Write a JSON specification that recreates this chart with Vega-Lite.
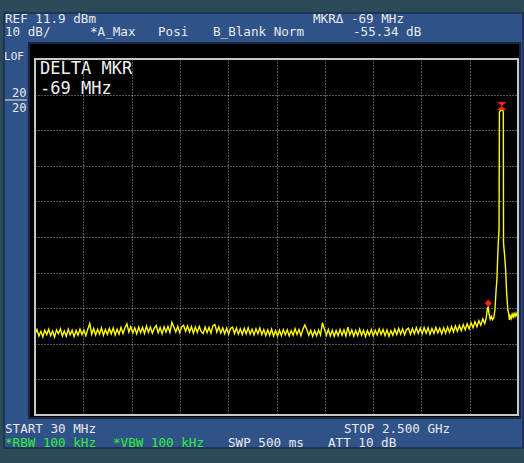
{
  "$schema": "https://vega.github.io/schema/vega-lite/v6.json",
  "width": 483,
  "height": 356,
  "autosize": {"type": "none"},
  "padding": {"left": 35, "top": 59, "right": 6, "bottom": 48},
  "background": "#2c4b59",
  "config": {"view": {"stroke": null}},
  "data": {"values": [{"panel": "screen"}]},
  "datasets": {
    "trace": [
      {"freq":30,"level":-65.4},{"freq":40,"level":-64.1},{"freq":50,"level":-65.9},{"freq":60,"level":-64.6},{"freq":70,"level":-66.1},{"freq":80,"level":-64.3},{"freq":90,"level":-65.5},{"freq":100,"level":-64.0},{"freq":110,"level":-65.8},{"freq":120,"level":-64.5},
      {"freq":130,"level":-66.2},{"freq":140,"level":-64.2},{"freq":150,"level":-65.3},{"freq":160,"level":-63.9},{"freq":170,"level":-65.9},{"freq":180,"level":-64.5},{"freq":190,"level":-66.0},{"freq":200,"level":-64.0},{"freq":210,"level":-65.6},{"freq":220,"level":-64.3},
      {"freq":230,"level":-66.1},{"freq":240,"level":-64.4},{"freq":250,"level":-65.7},{"freq":260,"level":-64.0},{"freq":270,"level":-65.5},{"freq":280,"level":-64.2},{"freq":290,"level":-65.8},{"freq":300,"level":-64.0},{"freq":310,"level":-62.4},{"freq":320,"level":-65.4},
      {"freq":330,"level":-63.8},{"freq":340,"level":-65.6},{"freq":350,"level":-64.0},{"freq":360,"level":-65.4},{"freq":370,"level":-63.6},{"freq":380,"level":-65.7},{"freq":390,"level":-64.1},{"freq":400,"level":-65.5},{"freq":410,"level":-63.8},{"freq":420,"level":-65.3},
      {"freq":430,"level":-63.7},{"freq":440,"level":-65.6},{"freq":450,"level":-64.0},{"freq":460,"level":-65.4},{"freq":470,"level":-63.5},{"freq":480,"level":-65.2},{"freq":490,"level":-63.6},{"freq":500,"level":-62.5},{"freq":510,"level":-64.8},{"freq":520,"level":-63.3},
      {"freq":530,"level":-65.1},{"freq":540,"level":-63.6},{"freq":550,"level":-65.3},{"freq":560,"level":-63.4},{"freq":570,"level":-65.0},{"freq":580,"level":-63.5},{"freq":590,"level":-65.2},{"freq":600,"level":-63.1},{"freq":610,"level":-64.9},{"freq":620,"level":-63.4},
      {"freq":630,"level":-65.1},{"freq":640,"level":-63.7},{"freq":650,"level":-63.0},{"freq":660,"level":-65.0},{"freq":670,"level":-63.5},{"freq":680,"level":-65.3},{"freq":690,"level":-63.3},{"freq":700,"level":-64.8},{"freq":710,"level":-63.2},{"freq":720,"level":-64.9},
      {"freq":730,"level":-62.1},{"freq":740,"level":-63.4},{"freq":750,"level":-64.8},{"freq":760,"level":-63.2},{"freq":770,"level":-65.0},{"freq":780,"level":-63.4},{"freq":790,"level":-62.9},{"freq":800,"level":-64.6},{"freq":810,"level":-63.1},{"freq":820,"level":-64.8},
      {"freq":830,"level":-63.3},{"freq":840,"level":-65.1},{"freq":850,"level":-63.4},{"freq":860,"level":-64.9},{"freq":870,"level":-63.2},{"freq":880,"level":-64.7},{"freq":890,"level":-65.2},{"freq":900,"level":-63.4},{"freq":910,"level":-65.0},{"freq":920,"level":-63.5},
      {"freq":930,"level":-65.1},{"freq":940,"level":-63.0},{"freq":950,"level":-62.7},{"freq":960,"level":-64.8},{"freq":970,"level":-63.3},{"freq":980,"level":-65.1},{"freq":990,"level":-63.6},{"freq":1000,"level":-65.3},{"freq":1010,"level":-63.7},{"freq":1020,"level":-65.4},
      {"freq":1030,"level":-63.8},{"freq":1040,"level":-63.4},{"freq":1050,"level":-65.2},{"freq":1060,"level":-63.7},{"freq":1070,"level":-65.4},{"freq":1080,"level":-63.9},{"freq":1090,"level":-65.5},{"freq":1100,"level":-63.8},{"freq":1110,"level":-65.3},{"freq":1120,"level":-63.6},
      {"freq":1130,"level":-65.4},{"freq":1140,"level":-64.0},{"freq":1150,"level":-65.6},{"freq":1160,"level":-63.9},{"freq":1170,"level":-65.3},{"freq":1180,"level":-63.7},{"freq":1190,"level":-65.5},{"freq":1200,"level":-64.1},{"freq":1210,"level":-65.8},{"freq":1220,"level":-64.2},
      {"freq":1230,"level":-65.7},{"freq":1240,"level":-64.0},{"freq":1250,"level":-65.9},{"freq":1260,"level":-64.4},{"freq":1270,"level":-66.0},{"freq":1280,"level":-64.3},{"freq":1290,"level":-65.8},{"freq":1300,"level":-64.1},{"freq":1310,"level":-65.6},{"freq":1320,"level":-64.2},
      {"freq":1330,"level":-65.9},{"freq":1340,"level":-64.4},{"freq":1350,"level":-65.7},{"freq":1360,"level":-63.9},{"freq":1370,"level":-65.5},{"freq":1380,"level":-64.1},{"freq":1390,"level":-65.8},{"freq":1400,"level":-64.0},{"freq":1410,"level":-62.8},{"freq":1420,"level":-64.1},
      {"freq":1430,"level":-65.7},{"freq":1440,"level":-64.3},{"freq":1450,"level":-66.0},{"freq":1460,"level":-64.4},{"freq":1470,"level":-65.8},{"freq":1480,"level":-64.2},{"freq":1490,"level":-65.6},{"freq":1500,"level":-62.2},{"freq":1510,"level":-64.0},{"freq":1520,"level":-65.7},
      {"freq":1530,"level":-64.1},{"freq":1540,"level":-65.9},{"freq":1550,"level":-64.3},{"freq":1560,"level":-66.0},{"freq":1570,"level":-64.4},{"freq":1580,"level":-65.8},{"freq":1590,"level":-64.1},{"freq":1600,"level":-65.7},{"freq":1610,"level":-64.2},{"freq":1620,"level":-65.9},
      {"freq":1630,"level":-63.4},{"freq":1640,"level":-65.6},{"freq":1650,"level":-64.2},{"freq":1660,"level":-66.0},{"freq":1670,"level":-64.4},{"freq":1680,"level":-65.8},{"freq":1690,"level":-64.0},{"freq":1700,"level":-65.7},{"freq":1710,"level":-64.3},{"freq":1720,"level":-66.1},
      {"freq":1730,"level":-64.4},{"freq":1740,"level":-65.7},{"freq":1750,"level":-64.1},{"freq":1760,"level":-65.9},{"freq":1770,"level":-64.3},{"freq":1780,"level":-65.6},{"freq":1790,"level":-63.9},{"freq":1800,"level":-65.5},{"freq":1810,"level":-64.1},{"freq":1820,"level":-65.8},
      {"freq":1830,"level":-64.2},{"freq":1840,"level":-66.0},{"freq":1850,"level":-64.4},{"freq":1860,"level":-65.7},{"freq":1870,"level":-64.0},{"freq":1880,"level":-65.5},{"freq":1890,"level":-63.8},{"freq":1900,"level":-65.4},{"freq":1910,"level":-63.9},{"freq":1920,"level":-65.6},
      {"freq":1930,"level":-64.1},{"freq":1940,"level":-63.7},{"freq":1950,"level":-65.4},{"freq":1960,"level":-63.8},{"freq":1970,"level":-65.3},{"freq":1980,"level":-63.6},{"freq":1990,"level":-65.2},{"freq":2000,"level":-63.7},{"freq":2010,"level":-65.3},{"freq":2020,"level":-63.5},
      {"freq":2030,"level":-65.1},{"freq":2040,"level":-63.6},{"freq":2050,"level":-65.4},{"freq":2060,"level":-63.8},{"freq":2070,"level":-65.2},{"freq":2080,"level":-63.5},{"freq":2090,"level":-65.0},{"freq":2100,"level":-63.7},{"freq":2110,"level":-65.3},{"freq":2120,"level":-63.6},
      {"freq":2130,"level":-65.1},{"freq":2140,"level":-63.4},{"freq":2150,"level":-64.9},{"freq":2160,"level":-63.3},{"freq":2170,"level":-64.8},{"freq":2180,"level":-63.1},{"freq":2190,"level":-64.6},{"freq":2200,"level":-63.0},{"freq":2210,"level":-64.4},{"freq":2220,"level":-62.7},
      {"freq":2230,"level":-64.2},{"freq":2240,"level":-62.5},{"freq":2250,"level":-63.9},{"freq":2260,"level":-62.2},{"freq":2270,"level":-63.6},{"freq":2280,"level":-61.9},{"freq":2290,"level":-63.3},{"freq":2300,"level":-61.6},{"freq":2310,"level":-62.9},{"freq":2320,"level":-61.1},
      {"freq":2330,"level":-62.4},{"freq":2338,"level":-60.7},{"freq":2344,"level":-58.0},{"freq":2348,"level":-57.8},{"freq":2352,"level":-59.8},{"freq":2358,"level":-61.2},{"freq":2364,"level":-60.4},{"freq":2370,"level":-61.3},{"freq":2376,"level":-60.8},{"freq":2382,"level":-58.6},
      {"freq":2388,"level":-53.0},{"freq":2392,"level":-50.2},{"freq":2396,"level":-44.0},{"freq":2399,"level":-39.9},{"freq":2403,"level":-36.1},{"freq":2405,"level":-3.0},{"freq":2411,"level":-2.5},{"freq":2417,"level":-2.4},{"freq":2423,"level":-2.6},{"freq":2425,"level":-3.2},
      {"freq":2426,"level":-39.9},{"freq":2432,"level":-43.5},{"freq":2437,"level":-47.4},{"freq":2442,"level":-53.9},{"freq":2448,"level":-58.6},{"freq":2452,"level":-59.5},{"freq":2456,"level":-61.4},{"freq":2460,"level":-60.3},{"freq":2465,"level":-61.0},{"freq":2470,"level":-59.8},
      {"freq":2475,"level":-60.6},{"freq":2480,"level":-59.6},{"freq":2485,"level":-60.4},{"freq":2490,"level":-59.5},{"freq":2495,"level":-60.2},{"freq":2500,"level":-59.4}
    ],
    "markers": [
      {"marker": "peak", "freq": 2417, "level": -2.4},
      {"marker": "delta", "freq": 2348, "level": -57.8}
    ]
  },
  "layer": [
    {
      "mark": {"type": "rect", "color": "#2f5388", "stroke": "#1c2d4c", "strokeWidth": 1.5, "clip": false},
      "encoding": {
        "x": {"datum": -128.5, "type": "quantitative", "scale": {"domain": [30, 2500], "nice": false, "zero": false}, "axis": {"title": null}},
        "x2": {"datum": 2525.6},
        "y": {"datum": 24.82, "type": "quantitative", "scale": {"domain": [-88.1, 11.9], "nice": false, "zero": false}, "axis": {"title": null}},
        "y2": {"datum": -97.37}
      }
    },
    {
      "mark": {"type": "rect", "color": "#000000", "stroke": "#18263f", "strokeWidth": 2, "clip": false},
      "encoding": {
        "x": {"datum": -1, "type": "quantitative", "axis": {"title": null}},
        "x2": {"datum": 2510.2},
        "y": {"datum": 16.39, "type": "quantitative", "axis": {"title": null}},
        "y2": {"datum": -88.95}
      }
    },
    {
      "data": {"name": "trace"},
      "mark": {"type": "line", "color": "#ffff00", "strokeWidth": 1.4, "clip": false},
      "encoding": {
        "x": {"field": "freq", "type": "quantitative", "axis": {"values": [277, 524, 771, 1018, 1265, 1512, 1759, 2006, 2253], "grid": true, "gridColor": "#a8a8a8", "gridDash": [1, 2], "gridWidth": 1, "labels": false, "ticks": false, "domain": false, "title": null, "zindex": 1}},
        "y": {"field": "level", "type": "quantitative", "axis": {"values": [1.9, -8.1, -18.1, -28.1, -38.1, -48.1, -58.1, -68.1, -78.1], "grid": true, "gridColor": "#a8a8a8", "gridDash": [1, 2], "gridWidth": 1, "labels": false, "ticks": false, "domain": false, "title": null, "zindex": 1}}
      }
    },
    {
      "mark": {"type": "rect", "filled": false, "stroke": "#c8c8c8", "strokeWidth": 2, "clip": false},
      "encoding": {
        "x": {"datum": 30, "type": "quantitative", "axis": {"title": null}},
        "x2": {"datum": 2500},
        "y": {"datum": 11.9, "type": "quantitative", "axis": {"title": null}},
        "y2": {"datum": -88.1}
      }
    },
    {
      "data": {"name": "markers"},
      "transform": [{"filter": "datum.marker === 'peak'"}],
      "mark": {"type": "point", "shape": "M-1,-0.85L1,-0.85L0,0L1,0.85L-1,0.85L0,0Z", "size": 90, "filled": true, "color": "#ff2020", "opacity": 1, "yOffset": -4},
      "encoding": {
        "x": {"field": "freq", "type": "quantitative", "axis": {"title": null}},
        "y": {"field": "level", "type": "quantitative", "axis": {"title": null}}
      }
    },
    {
      "data": {"name": "markers"},
      "transform": [{"filter": "datum.marker === 'delta'"}],
      "mark": {"type": "point", "shape": "diamond", "size": 50, "filled": true, "color": "#ff2020", "opacity": 1, "yOffset": -4},
      "encoding": {
        "x": {"field": "freq", "type": "quantitative", "axis": {"title": null}},
        "y": {"field": "level", "type": "quantitative", "axis": {"title": null}}
      }
    },
    {
      "mark": {"type": "text", "text": "DELTA MKR", "align": "left", "baseline": "alphabetic", "font": "DejaVu Sans Mono", "fontSize": 17, "color": "#f0f0f0", "clip": false},
      "encoding": {"x": {"datum": 55.6, "type": "quantitative", "axis": {"title": null}}, "y": {"datum": 7.55, "type": "quantitative", "axis": {"title": null}}}
    },
    {
      "mark": {"type": "text", "text": "-69 MHz", "align": "left", "baseline": "alphabetic", "font": "DejaVu Sans Mono", "fontSize": 17, "color": "#f0f0f0", "clip": false},
      "encoding": {"x": {"datum": 55.6, "type": "quantitative", "axis": {"title": null}}, "y": {"datum": 2.2, "type": "quantitative", "axis": {"title": null}}}
    },
    {
      "mark": {"type": "text", "text": "REF 11.9 dBm", "align": "left", "baseline": "alphabetic", "font": "DejaVu Sans Mono", "fontSize": 12.6, "color": "#e8e8e8", "clip": false},
      "encoding": {"x": {"datum": -123.4, "type": "quantitative", "axis": {"title": null}}, "y": {"datum": 22.15, "type": "quantitative", "axis": {"title": null}}}
    },
    {
      "mark": {"type": "text", "text": "MKRΔ -69 MHz", "align": "left", "baseline": "alphabetic", "font": "DejaVu Sans Mono", "fontSize": 12.6, "color": "#e8e8e8", "clip": false},
      "encoding": {"x": {"datum": 1451.7, "type": "quantitative", "axis": {"title": null}}, "y": {"datum": 22.15, "type": "quantitative", "axis": {"title": null}}}
    },
    {
      "mark": {"type": "text", "text": "10 dB/", "align": "left", "baseline": "alphabetic", "font": "DejaVu Sans Mono", "fontSize": 12.6, "color": "#e8e8e8", "clip": false},
      "encoding": {"x": {"datum": -123.4, "type": "quantitative", "axis": {"title": null}}, "y": {"datum": 18.36, "type": "quantitative", "axis": {"title": null}}}
    },
    {
      "mark": {"type": "text", "text": "*A_Max", "align": "left", "baseline": "alphabetic", "font": "DejaVu Sans Mono", "fontSize": 12.6, "color": "#e8e8e8", "clip": false},
      "encoding": {"x": {"datum": 311.3, "type": "quantitative", "axis": {"title": null}}, "y": {"datum": 18.36, "type": "quantitative", "axis": {"title": null}}}
    },
    {
      "mark": {"type": "text", "text": "Posi", "align": "left", "baseline": "alphabetic", "font": "DejaVu Sans Mono", "fontSize": 12.6, "color": "#e8e8e8", "clip": false},
      "encoding": {"x": {"datum": 659.0, "type": "quantitative", "axis": {"title": null}}, "y": {"datum": 18.36, "type": "quantitative", "axis": {"title": null}}}
    },
    {
      "mark": {"type": "text", "text": "B_Blank Norm", "align": "left", "baseline": "alphabetic", "font": "DejaVu Sans Mono", "fontSize": 12.6, "color": "#e8e8e8", "clip": false},
      "encoding": {"x": {"datum": 940.3, "type": "quantitative", "axis": {"title": null}}, "y": {"datum": 18.36, "type": "quantitative", "axis": {"title": null}}}
    },
    {
      "mark": {"type": "text", "text": "-55.34 dB", "align": "left", "baseline": "alphabetic", "font": "DejaVu Sans Mono", "fontSize": 12.6, "color": "#e8e8e8", "clip": false},
      "encoding": {"x": {"datum": 1656.2, "type": "quantitative", "axis": {"title": null}}, "y": {"datum": 18.36, "type": "quantitative", "axis": {"title": null}}}
    },
    {
      "mark": {"type": "text", "text": "LOF", "align": "left", "baseline": "alphabetic", "font": "DejaVu Sans Mono", "fontSize": 11, "color": "#e8e8e8", "clip": false},
      "encoding": {"x": {"datum": -128.5, "type": "quantitative", "axis": {"title": null}}, "y": {"datum": 11.62, "type": "quantitative", "axis": {"title": null}}}
    },
    {
      "mark": {"type": "text", "text": "20", "align": "left", "baseline": "alphabetic", "font": "DejaVu Sans Mono", "fontSize": 12, "color": "#e8e8e8", "clip": false},
      "encoding": {"x": {"datum": -87.6, "type": "quantitative", "axis": {"title": null}}, "y": {"datum": 1.23, "type": "quantitative", "axis": {"title": null}}}
    },
    {
      "mark": {"type": "rule", "color": "#e8e8e8", "strokeWidth": 1, "clip": false},
      "encoding": {"x": {"datum": -123.4, "type": "quantitative", "axis": {"title": null}}, "x2": {"datum": -10.9}, "y": {"datum": 0.38, "type": "quantitative", "axis": {"title": null}}}
    },
    {
      "mark": {"type": "text", "text": "20", "align": "left", "baseline": "alphabetic", "font": "DejaVu Sans Mono", "fontSize": 12, "color": "#e8e8e8", "clip": false},
      "encoding": {"x": {"datum": -87.6, "type": "quantitative", "axis": {"title": null}}, "y": {"datum": -2.99, "type": "quantitative", "axis": {"title": null}}}
    },
    {
      "mark": {"type": "text", "text": "START 30 MHz", "align": "left", "baseline": "alphabetic", "font": "DejaVu Sans Mono", "fontSize": 12.6, "color": "#e8e8e8", "clip": false},
      "encoding": {"x": {"datum": -123.4, "type": "quantitative", "axis": {"title": null}}, "y": {"datum": -93.16, "type": "quantitative", "axis": {"title": null}}}
    },
    {
      "mark": {"type": "text", "text": "STOP 2.500 GHz", "align": "left", "baseline": "alphabetic", "font": "DejaVu Sans Mono", "fontSize": 12.6, "color": "#e8e8e8", "clip": false},
      "encoding": {"x": {"datum": 1610.2, "type": "quantitative", "axis": {"title": null}}, "y": {"datum": -93.16, "type": "quantitative", "axis": {"title": null}}}
    },
    {
      "mark": {"type": "text", "text": "*RBW 100 kHz", "align": "left", "baseline": "alphabetic", "font": "DejaVu Sans Mono", "fontSize": 12.6, "color": "#33ee33", "clip": false},
      "encoding": {"x": {"datum": -123.4, "type": "quantitative", "axis": {"title": null}}, "y": {"datum": -97.09, "type": "quantitative", "axis": {"title": null}}}
    },
    {
      "mark": {"type": "text", "text": "*VBW 100 kHz", "align": "left", "baseline": "alphabetic", "font": "DejaVu Sans Mono", "fontSize": 12.6, "color": "#33ee33", "clip": false},
      "encoding": {"x": {"datum": 428.9, "type": "quantitative", "axis": {"title": null}}, "y": {"datum": -97.09, "type": "quantitative", "axis": {"title": null}}}
    },
    {
      "mark": {"type": "text", "text": "SWP 500 ms", "align": "left", "baseline": "alphabetic", "font": "DejaVu Sans Mono", "fontSize": 12.6, "color": "#e8e8e8", "clip": false},
      "encoding": {"x": {"datum": 1017.0, "type": "quantitative", "axis": {"title": null}}, "y": {"datum": -97.09, "type": "quantitative", "axis": {"title": null}}}
    },
    {
      "mark": {"type": "text", "text": "ATT 10 dB", "align": "left", "baseline": "alphabetic", "font": "DejaVu Sans Mono", "fontSize": 12.6, "color": "#e8e8e8", "clip": false},
      "encoding": {"x": {"datum": 1528.4, "type": "quantitative", "axis": {"title": null}}, "y": {"datum": -97.09, "type": "quantitative", "axis": {"title": null}}}
    }
  ]
}
